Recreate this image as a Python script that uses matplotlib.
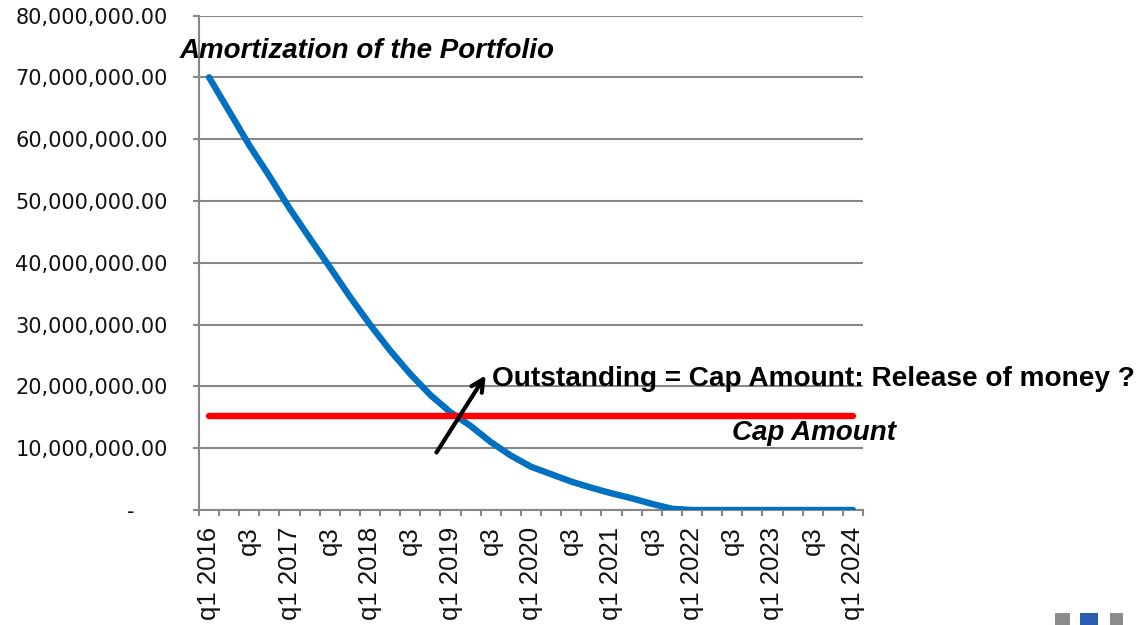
import matplotlib
matplotlib.use("Agg")
import matplotlib.pyplot as plt
from matplotlib.patches import Rectangle

# ---- data ----
quarters = [f"q{q} {y}" for y in range(2016, 2024) for q in (1, 2, 3, 4)] + ["q1 2024"]
tick_labels = ["q1 2016", "q3", "q1 2017", "q3", "q1 2018", "q3", "q1 2019", "q3",
               "q1 2020", "q3", "q1 2021", "q3", "q1 2022", "q3", "q1 2023", "q3", "q1 2024"]
outstanding = [70.0, 64.5, 59.0, 54.0, 48.8, 44.0, 39.3, 34.5, 30.0, 25.8, 22.0, 18.6,
               15.8, 13.6, 11.0, 8.8, 7.0, 5.8, 4.6, 3.6, 2.7, 1.9, 1.0, 0.2,
               0, 0, 0, 0, 0, 0, 0, 0, 0]
outstanding = [v * 1e6 for v in outstanding]
cap_amount = 15.25e6
yticks = [0, 10e6, 20e6, 30e6, 40e6, 50e6, 60e6, 70e6, 80e6]
ytick_labels = ["-     "] + [f"{v:,.2f}" for v in yticks[1:]]

# ---- figure ----
W, H = 1138, 625
fig = plt.figure(figsize=(W / 100, H / 100), dpi=100)
ax = fig.add_axes([199 / W, 1 - 510 / H, 664 / W, (510 - 15.5) / H])

grey = "#878787"
x = list(range(len(quarters)))
ax.plot(x, outstanding, color="#0070C0", lw=4.6, solid_capstyle="round",
        solid_joinstyle="round", zorder=3)
ax.plot(x, [cap_amount] * len(x), color="#FF0000", lw=4.6, solid_capstyle="round",
        zorder=4)

ax.set_xlim(-0.5, len(quarters) - 0.5)
ax.set_ylim(0, 80e6)

ax.set_yticks(yticks)
ax.set_yticklabels(ytick_labels, fontsize=15, family="DejaVu Sans", color="#111111")
ax.tick_params(axis="y", direction="out", length=4.5, width=1.5, color=grey, pad=18)

ax.set_xticks(x[::2])
ax.set_xticklabels(tick_labels, rotation=90, fontsize=18.5, family="Liberation Sans",
                   color="#111111")
ax.set_xticks([k - 0.5 for k in range(len(quarters) + 1)], minor=True)
ax.tick_params(axis="x", which="major", length=0, pad=12)
ax.tick_params(axis="x", which="minor", direction="out", length=4.5, width=1.5, color=grey)

ax.grid(axis="y", color=grey, lw=1.5)
ax.set_axisbelow(True)
for s in ("top", "right"):
    ax.spines[s].set_visible(False)
for s in ("left", "bottom"):
    ax.spines[s].set_color(grey)
    ax.spines[s].set_linewidth(1.5)

# ---- annotations ----
ax.text(-1.45, 74.3e6, "Amortization of the Portfolio", fontsize=20, fontweight="bold",
        fontstyle="italic", family="Liberation Sans", ha="left", va="center", clip_on=False)
ax.text(14.05, 21.2e6, "Outstanding = Cap Amount: Release of money ?", fontsize=20.2,
        fontweight="bold", family="Liberation Sans", ha="left", va="center", clip_on=False)
ax.text(34.15, 12.4e6, "Cap Amount", fontsize=20, fontweight="bold", fontstyle="italic",
        family="Liberation Sans", ha="right", va="center", clip_on=False)
ax.annotate("", xy=(13.75, 21.8e6), xytext=(11.3, 9.3e6),
            arrowprops=dict(arrowstyle="->", color="black", lw=3, mutation_scale=22,
                            shrinkA=0, shrinkB=0), zorder=5)

# small logo squares at bottom-right
for (x0, x1, c) in [(1055, 1070, "#8c8c8c"), (1080, 1098, "#2a5db0"), (1110, 1123, "#8c8c8c")]:
    fig.patches.append(Rectangle((x0 / W, 0), (x1 - x0) / W, 12 / H, transform=fig.transFigure,
                                 color=c, lw=0))

fig.savefig("out.png", dpi=100)
